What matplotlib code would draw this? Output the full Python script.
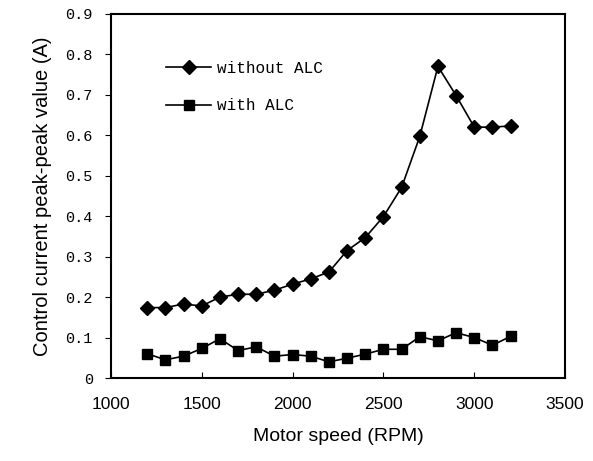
import matplotlib
matplotlib.use('Agg')
import matplotlib.pyplot as plt

speed = [1200, 1300, 1400, 1500, 1600, 1700, 1800, 1900, 2000, 2100, 2200,
         2300, 2400, 2500, 2600, 2700, 2800, 2900, 3000, 3100, 3200]
withoutALC = [0.174, 0.174, 0.183, 0.178, 0.200, 0.207, 0.207, 0.217, 0.232,
              0.245, 0.262, 0.315, 0.347, 0.399, 0.471, 0.597, 0.770, 0.698,
              0.620, 0.620, 0.623]
withALC = [0.060, 0.045, 0.054, 0.073, 0.097, 0.068, 0.077, 0.054, 0.058,
           0.054, 0.040, 0.049, 0.059, 0.071, 0.071, 0.102, 0.092, 0.112,
           0.100, 0.081, 0.103]
yticks = [0, 0.1, 0.2, 0.3, 0.4, 0.5, 0.6, 0.7, 0.8, 0.9]
ytickLabels = ['0', '0.1', '0.2', '0.3', '0.4', '0.5', '0.6', '0.7', '0.8', '0.9']
xticks = [1000, 1500, 2000, 2500, 3000, 3500]

fig = plt.figure(figsize=(5.93, 4.61), dpi=100)
ax = fig.add_axes([0.187, 0.180, 0.766, 0.790])

ax.plot(speed, withoutALC, color='black', linewidth=1.2, marker='D',
        markersize=7, label='without ALC')
ax.plot(speed, withALC, color='black', linewidth=1.2, marker='s',
        markersize=7.5, label='with ALC')

ax.set_xlim(1000, 3500)
ax.set_ylim(0, 0.9)
ax.set_xticks(xticks)
ax.set_yticks(yticks)
ax.set_yticklabels(ytickLabels, family='Liberation Mono', fontsize=11)
ax.set_xticklabels([str(x) for x in xticks], family='Liberation Sans',
                   fontsize=12.5)
ax.tick_params(axis='x', direction='in', length=4, pad=14)
ax.tick_params(axis='y', direction='out', length=4, pad=9)
for spine in ax.spines.values():
    spine.set_linewidth(1.5)

ax.set_xlabel('Motor speed (RPM)', family='Liberation Sans', fontsize=14,
              labelpad=11)
ax.set_ylabel('Control current peak-peak value (A)', family='Liberation Sans',
              fontsize=14.5, labelpad=10)

ax.legend(loc='upper left', bbox_to_anchor=(0.09, 0.91), frameon=False,
          prop={'family': 'Liberation Mono', 'size': 11.5},
          handlelength=2.8, labelspacing=1.4, handletextpad=0.4)

fig.savefig('out.png', dpi=100)
